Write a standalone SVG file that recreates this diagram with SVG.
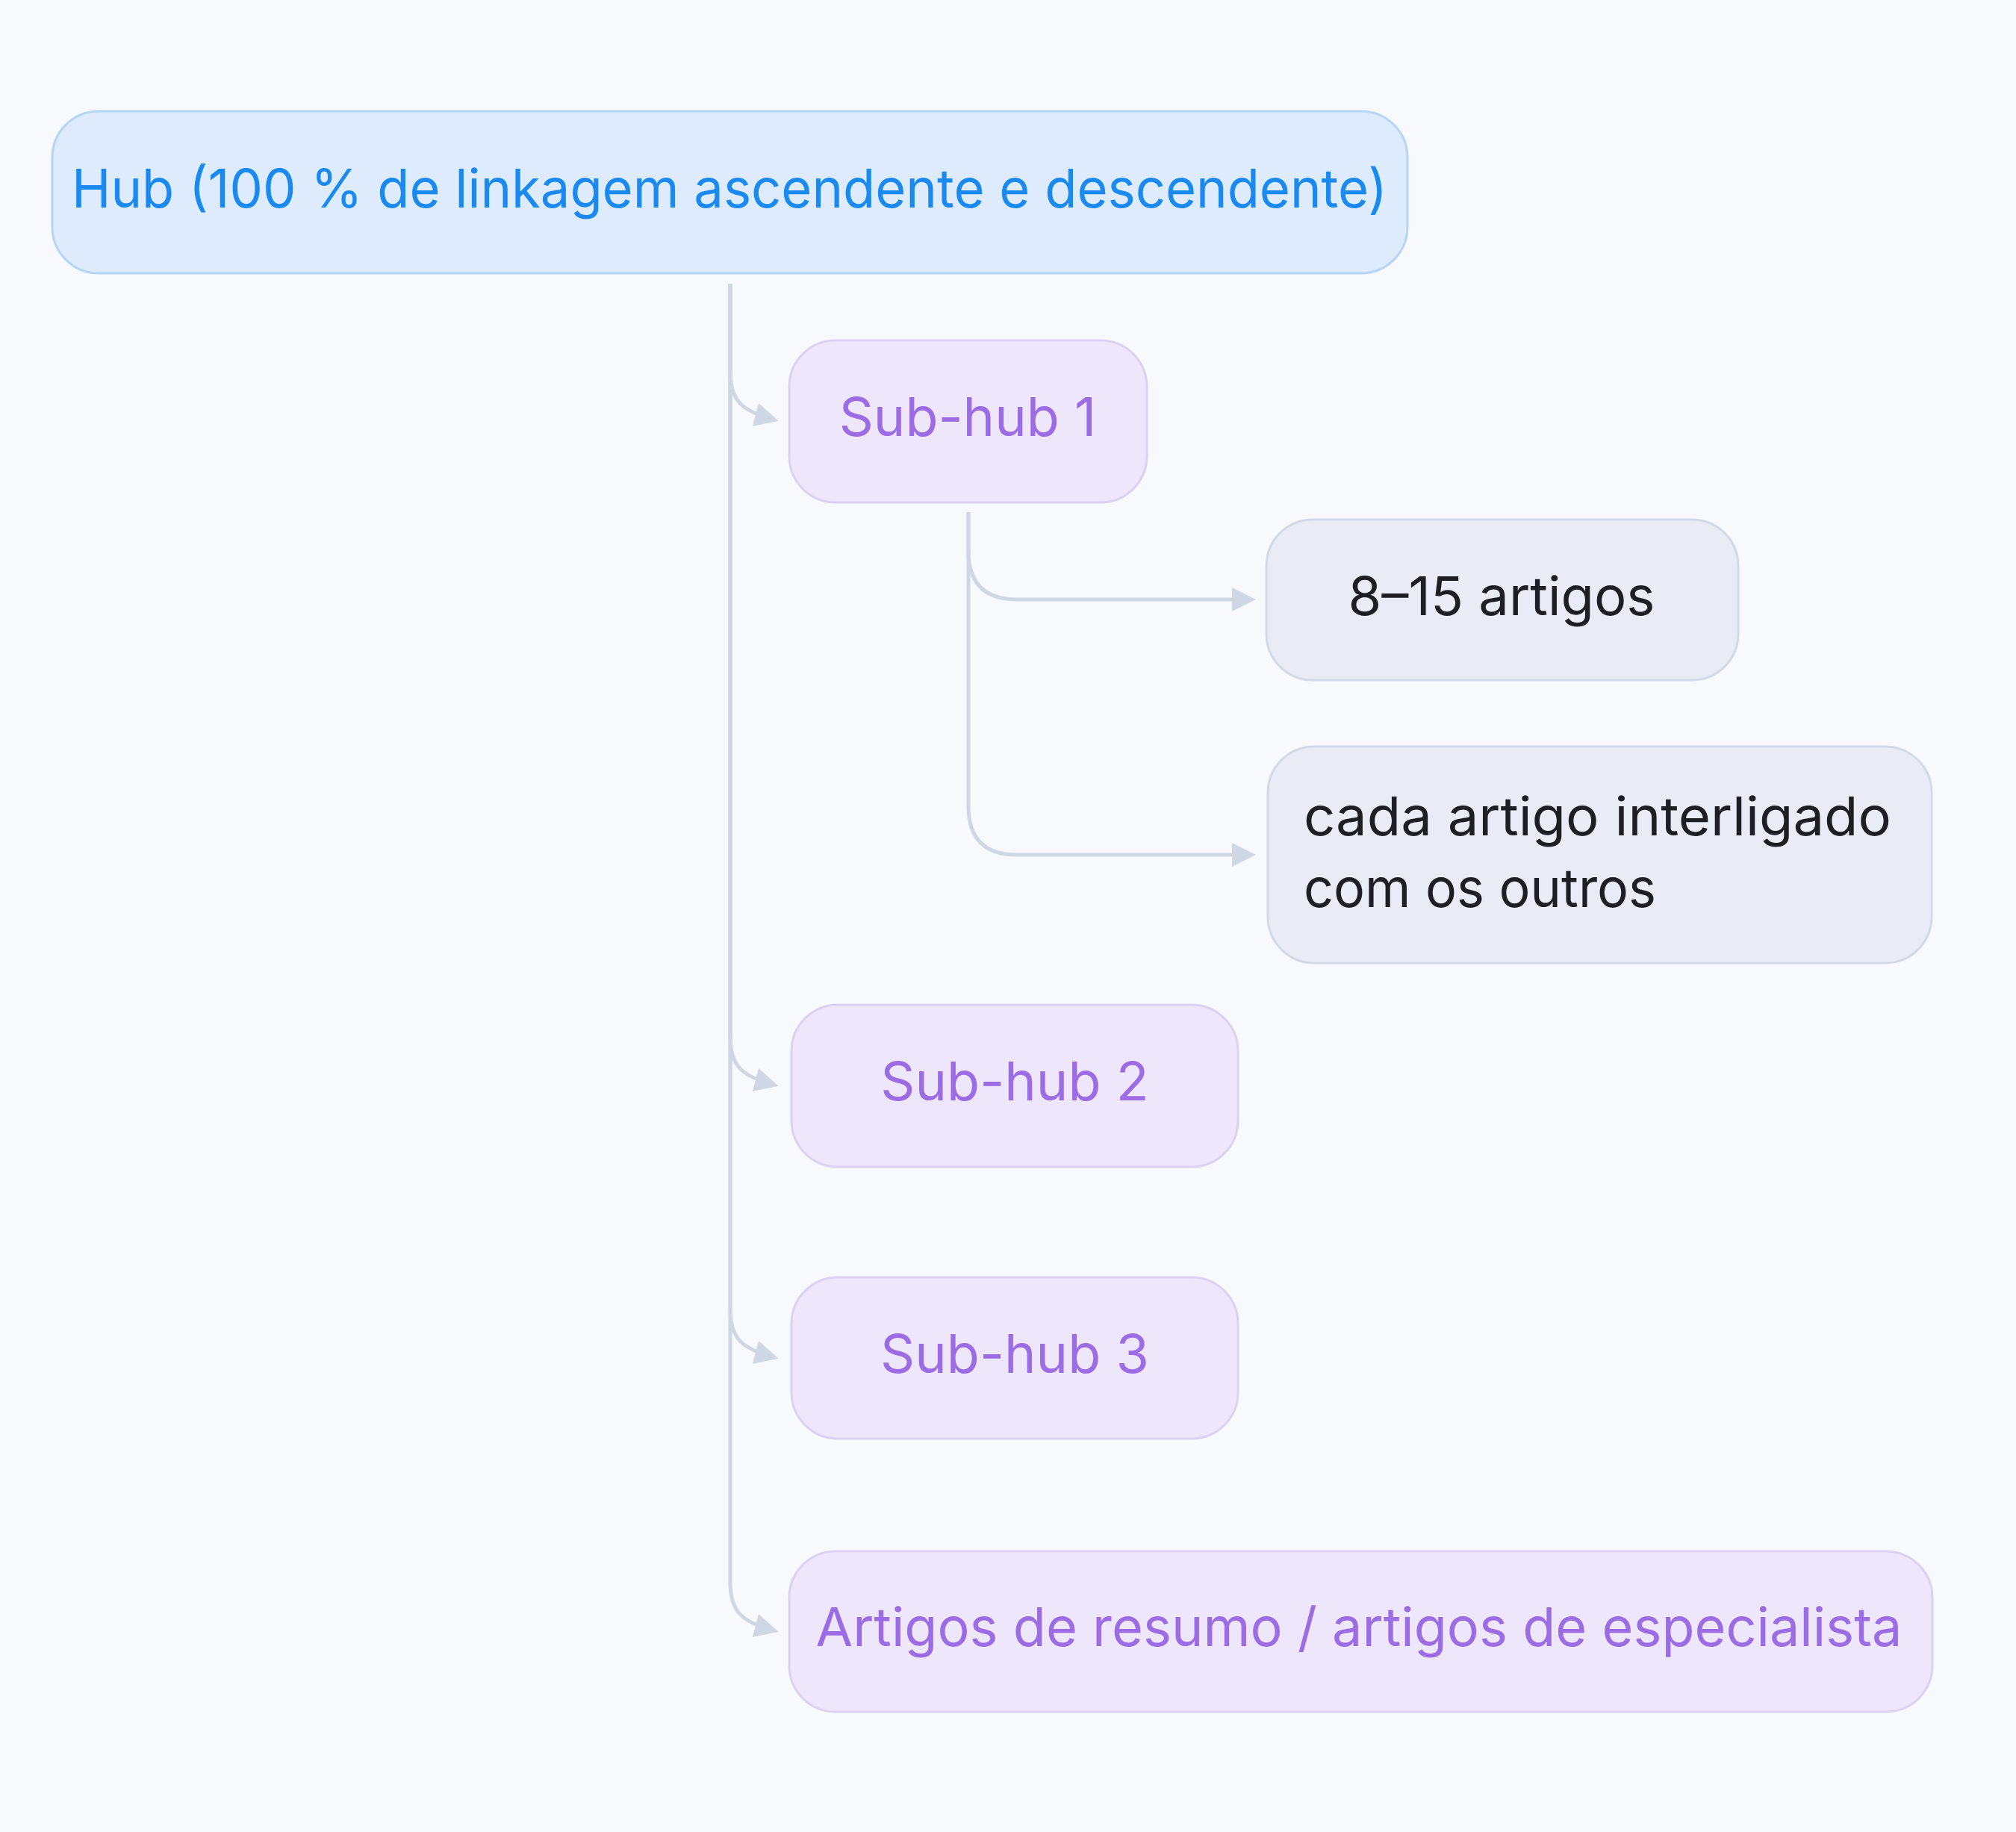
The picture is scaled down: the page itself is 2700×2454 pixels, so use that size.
<svg xmlns="http://www.w3.org/2000/svg" width="2700" height="2454" viewBox="0 0 2700 2454">
  <defs>
    <style>
      .lbl { font-family: Inter, "Noto Sans", "Liberation Sans", sans-serif; font-size: 72px; }
      .hub rect { fill: #DDEBFC; stroke: #B5D5F6; stroke-width: 3; }
      .hub text { fill: #1A8AF0; }
      .sub rect { fill: #EEE7FB; stroke: #DBD2F3; stroke-width: 3; }
      .sub text { fill: #9B6CE3; }
      .leaf rect { fill: #E9ECF4; stroke: #D3D9E7; stroke-width: 3; }
      .leaf text { fill: #1E1F24; }
      .conn path { fill: none; stroke: #CFD7E5; stroke-width: 5; }
    </style>
    <marker id="arr" viewBox="0 0 32 32" refX="25" refY="16" markerWidth="32" markerHeight="32" markerUnits="userSpaceOnUse" orient="auto">
      <path d="M0,0 L32,16 L0,32 Z" fill="#CFD7E5"/>
    </marker>
  </defs>
  <rect x="0" y="0" width="2700" height="2454" fill="#F8F9FD"/>

  <g id="connectors" class="conn">
    <path d="M978,380 V498 C978,538 995,551 1036,562" marker-end="url(#arr)"/>
    <path d="M978,380 V1389 C978,1429 995,1442 1036,1453" marker-end="url(#arr)"/>
    <path d="M978,380 V1754 C978,1794 995,1807 1036,1818" marker-end="url(#arr)"/>
    <path d="M978,380 V2120 C978,2160 995,2173 1036,2184" marker-end="url(#arr)"/>
    <path d="M1297,686 V738 Q1297,803 1362,803 H1675" marker-end="url(#arr)"/>
    <path d="M1297,686 V1080 Q1297,1145 1362,1145 H1675" marker-end="url(#arr)"/>
  </g>

  <g id="hub" class="hub">
    <rect x="70" y="149" width="1815" height="217" rx="62" ry="62"/>
    <text class="lbl" x="977" y="278" text-anchor="middle" textLength="1762" lengthAdjust="spacingAndGlyphs">Hub (100 % de linkagem ascendente e descendente)</text>
  </g>

  <g id="subhub1" class="sub">
    <rect x="1057" y="456" width="479" height="217" rx="62" ry="62"/>
    <text class="lbl" x="1296" y="584" text-anchor="middle">Sub-hub 1</text>
  </g>

  <g id="artigos815" class="leaf">
    <rect x="1696" y="696" width="632" height="215" rx="62" ry="62"/>
    <text class="lbl" x="2011" y="824" text-anchor="middle" textLength="411" lengthAdjust="spacingAndGlyphs">8–15 artigos</text>
  </g>

  <g id="interligado" class="leaf">
    <rect x="1698" y="1000" width="889" height="290" rx="62" ry="62"/>
    <text class="lbl" x="1746" y="1119" textLength="787" lengthAdjust="spacingAndGlyphs">cada artigo interligado</text>
    <text class="lbl" x="1746" y="1215" textLength="472" lengthAdjust="spacingAndGlyphs">com os outros</text>
  </g>

  <g id="subhub2" class="sub">
    <rect x="1060" y="1346" width="598" height="217" rx="62" ry="62"/>
    <text class="lbl" x="1359" y="1474" text-anchor="middle">Sub-hub 2</text>
  </g>

  <g id="subhub3" class="sub">
    <rect x="1060" y="1711" width="598" height="216" rx="62" ry="62"/>
    <text class="lbl" x="1359" y="1839" text-anchor="middle">Sub-hub 3</text>
  </g>

  <g id="resumo" class="sub">
    <rect x="1057" y="2078" width="1531" height="215" rx="62" ry="62"/>
    <text class="lbl" x="1820" y="2205" text-anchor="middle" textLength="1455" lengthAdjust="spacingAndGlyphs">Artigos de resumo / artigos de especialista</text>
  </g>
</svg>
